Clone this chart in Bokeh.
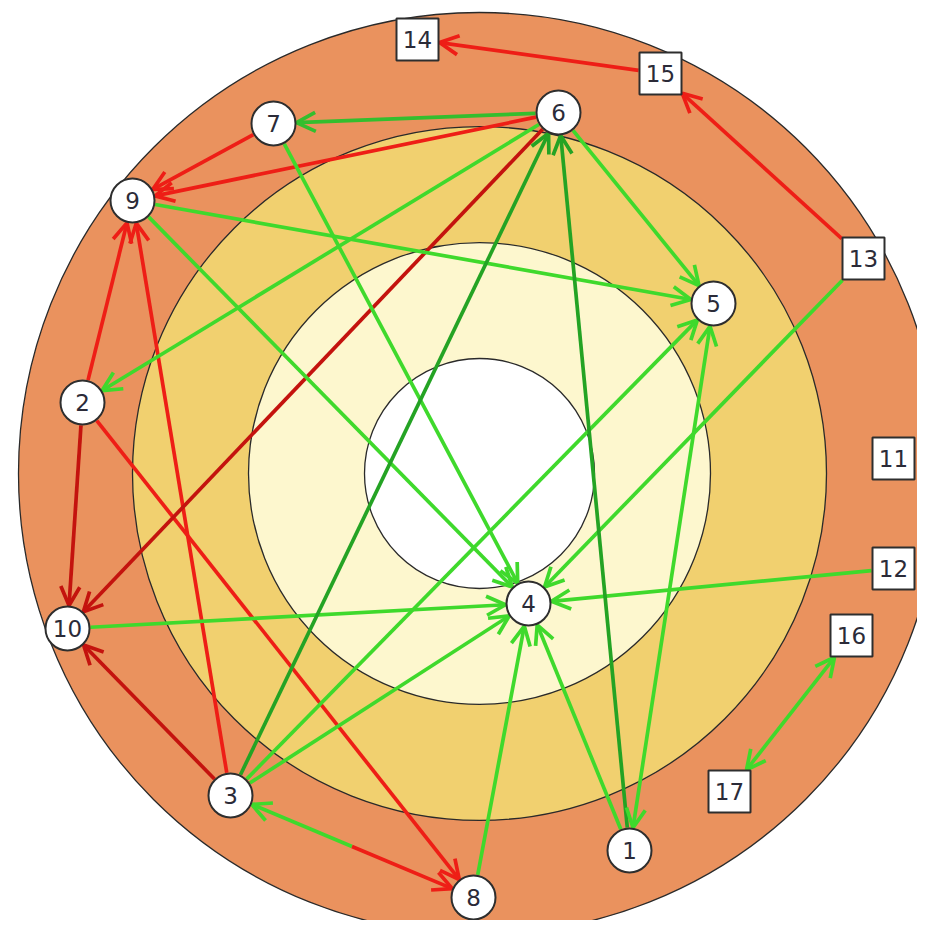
import math
from bokeh.plotting import figure
from bokeh.models import Range1d, Arrow, OpenHead, ColumnDataSource
from bokeh.core.properties import value
from bokeh.embed import file_html
from bokeh.resources import INLINE

# ---- data ----
ring_cx, ring_cy = 479, 473
ring_radii = [461, 347, 231, 115]
ring_colors = ["#EA925E", "#F1D06F", "#FDF7CE", "#FFFFFF"]

circle_ids = [1, 2, 3, 4, 5, 6, 7, 8, 9, 10]
circle_x = [629, 82, 230, 528, 713, 558, 273, 473, 132, 67]
circle_y = [850, 402, 795, 603, 303, 112, 123, 897, 200, 628]

square_ids = [11, 12, 13, 14, 15, 16, 17]
square_x = [893, 893, 863, 417, 660, 851, 729]
square_y = [458, 568, 258, 39, 73, 635, 791]

# directed edges (source, target)
green_edges = [(6, 5), (9, 5), (9, 4), (7, 4), (3, 5), (3, 4), (10, 4),
               (13, 4), (12, 4), (8, 4), (1, 4), (6, 2)]
midgreen_edges = [(6, 7)]
darkgreen_edges = [(3, 6), (1, 6)]
green_both_edges = [(5, 1), (16, 17)]
red_edges = [(7, 9), (6, 9), (2, 9), (3, 9), (2, 8), (15, 14), (13, 15)]
darkred_edges = [(6, 10), (2, 10), (3, 10)]
split_edges = [(3, 8)]  # green half toward 3, red half toward 8

# ---- geometry helpers ----
NODE_R = 22
BOX_H = 21
pos = {}
kind = {}
for i, x, y in zip(circle_ids, circle_x, circle_y):
    pos[i] = (x, y)
    kind[i] = "c"
for i, x, y in zip(square_ids, square_x, square_y):
    pos[i] = (x, y)
    kind[i] = "s"


def offset(node, ux, uy):
    if kind[node] == "c":
        return NODE_R + 1
    return BOX_H / max(abs(ux), abs(uy)) + 1


def trimmed(a, b):
    ax, ay = pos[a]
    bx, by = pos[b]
    dx, dy = bx - ax, by - ay
    L = math.hypot(dx, dy)
    ux, uy = dx / L, dy / L
    da = offset(a, ux, uy)
    db = offset(b, ux, uy)
    return (ax + ux * da, ay + uy * da, bx - ux * db, by - uy * db)


def make_source(edges):
    d = dict(x0=[], y0=[], x1=[], y1=[])
    for a, b in edges:
        x0, y0, x1, y1 = trimmed(a, b)
        d["x0"].append(x0); d["y0"].append(y0)
        d["x1"].append(x1); d["y1"].append(y1)
    return ColumnDataSource(d)


p = figure(width=917, height=920, x_range=Range1d(0, 917), y_range=Range1d(920, 0),
           output_backend="svg", toolbar_location=None, min_border=0,
           x_axis_type=None, y_axis_type=None)
p.grid.visible = False
p.outline_line_color = None
p.background_fill_color = "white"
p.border_fill_color = "white"

# rings
p.circle(x=[ring_cx] * 4, y=[ring_cy] * 4, radius=ring_radii,
         fill_color=ring_colors, line_color="#2a2a2a", line_width=1.3, level="image")

LW = 3.7
HS = 19


def add_arrows(edges, color, both=False):
    src = make_source(edges)
    start = OpenHead(size=HS, line_color=color, line_width=LW) if both else None
    arr = Arrow(source=src, x_start="x0", y_start="y0", x_end="x1", y_end="y1",
                line_color=color, line_width=LW, level="underlay",
                end=OpenHead(size=HS, line_color=color, line_width=LW), start=start)
    p.add_layout(arr)


GREEN = "#3FD92C"
MIDGREEN = "#34BE2E"
DARKGREEN = "#24A324"
RED = "#EE1E16"
DARKRED = "#C4130E"

add_arrows(red_edges, RED)
add_arrows(darkred_edges, DARKRED)
add_arrows(green_edges, GREEN)
add_arrows(midgreen_edges, MIDGREEN)
add_arrows(darkgreen_edges, DARKGREEN)
add_arrows(green_both_edges, GREEN, both=True)

# split edge: from midpoint to each end
for a, b in split_edges:
    x0, y0, x1, y1 = trimmed(a, b)
    mx, my = (pos[a][0] + pos[b][0]) / 2, (pos[a][1] + pos[b][1]) / 2
    sg = ColumnDataSource(dict(x0=[mx], y0=[my], x1=[x0], y1=[y0]))
    sr = ColumnDataSource(dict(x0=[mx], y0=[my], x1=[x1], y1=[y1]))
    p.add_layout(Arrow(source=sg, x_start="x0", y_start="y0", x_end="x1", y_end="y1",
                       line_color=GREEN, line_width=LW, level="underlay",
                       end=OpenHead(size=HS, line_color=GREEN, line_width=LW)))
    p.add_layout(Arrow(source=sr, x_start="x0", y_start="y0", x_end="x1", y_end="y1",
                       line_color=RED, line_width=LW, level="underlay",
                       end=OpenHead(size=HS, line_color=RED, line_width=LW)))

# nodes
p.scatter(x=circle_x, y=circle_y, marker="circle", size=2 * NODE_R,
          fill_color="white", line_color="#2e2e2e", line_width=2)
p.scatter(x=square_x, y=square_y, marker="square", size=2 * BOX_H,
          fill_color="white", line_color="#2e2e2e", line_width=2)

labels_x = circle_x + square_x
labels_y = circle_y + square_y
labels = [str(i) for i in circle_ids + square_ids]
p.text(x=labels_x, y=labels_y, text=labels, text_align="center", text_baseline="middle",
       text_font=value("DejaVu Sans"), text_font_size="23px", text_color="#2b2b38")

open("out.html", "w").write(file_html(p, INLINE))
